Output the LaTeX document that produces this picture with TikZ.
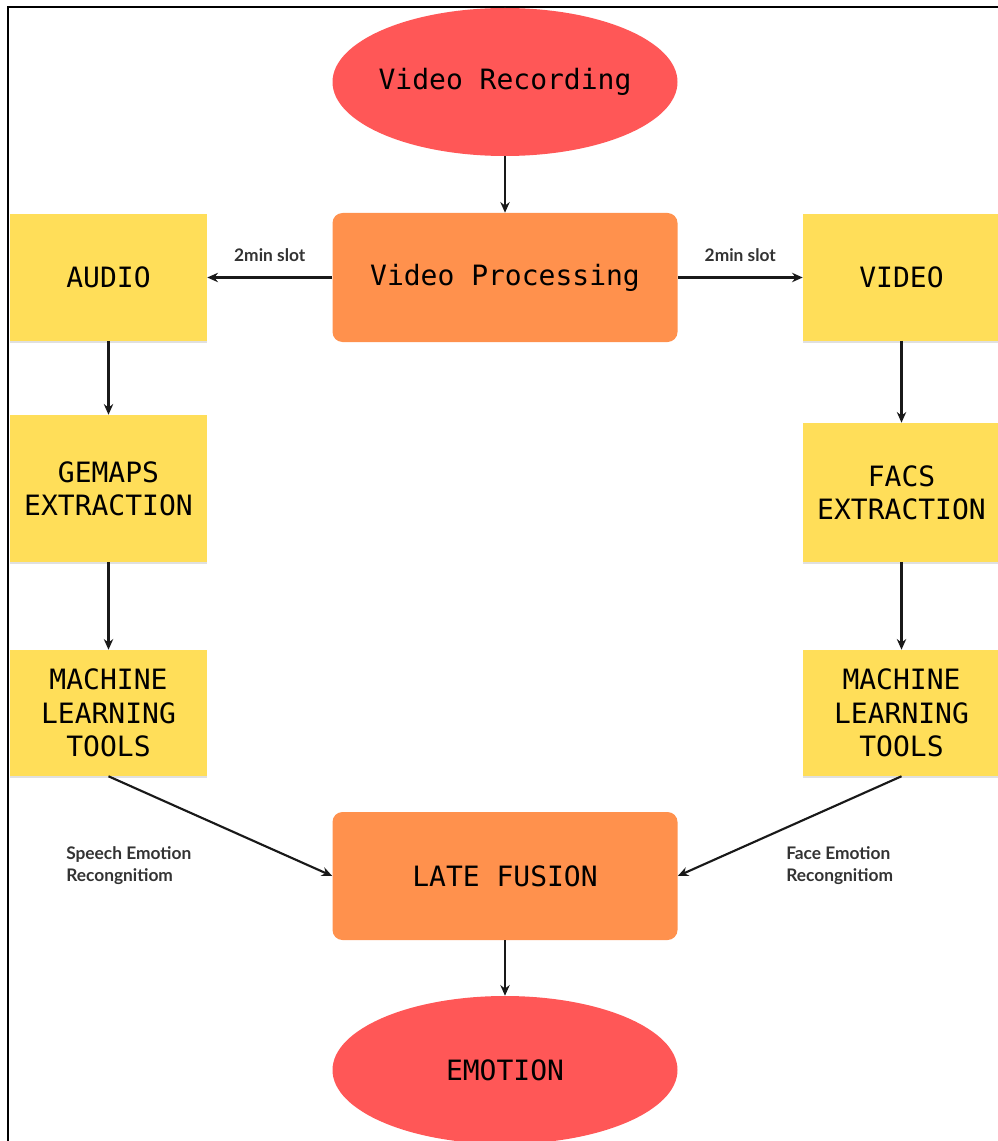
\documentclass[tikz,border=0pt]{standalone}
\usepackage{fontspec}
\setmonofont{DejaVu Sans Mono}
\newfontfamily\lblfont{Lato}
\usetikzlibrary{shapes.geometric,arrows.meta,shadows}
\definecolor{recred}{HTML}{FF5757}
\definecolor{procorange}{HTML}{FF914D}
\definecolor{stepyellow}{HTML}{FFDE59}
\definecolor{lbltext}{HTML}{333333}
\begin{document}
\begin{tikzpicture}[x=0.75pt,y=-0.75pt,
  every node/.style={font=\ttfamily\fontsize{21}{25}\selectfont, align=center, inner sep=0pt},
  oval/.style={ellipse, fill=recred, minimum width=258.75pt, minimum height=111pt},
  procbox/.style={rectangle, rounded corners=7.5pt, fill=procorange, minimum width=258.75pt, minimum height=96.75pt},
  stepbox/.style={rectangle, fill=stepyellow, minimum width=147.75pt, minimum height=94.5pt,
    drop shadow={shadow xshift=0pt, shadow yshift=-1.5pt, opacity=0.12, fill=black}},
  lbl/.style={font=\lblfont\bfseries\fontsize{13}{16.5}\selectfont, text=lbltext},
  arr/.style={-{Stealth[length=8pt,width=7pt]}, line width=1.6pt, draw=black!90}
]
\useasboundingbox (0,0) rectangle (997,1141);
\draw [line width=1.6pt] (8,1145) -- (8,7) -- (1000,7);

\node [oval] (rec) at (505,82) {\makebox[0pt]{Video Recording}};
\node [procbox] (proc) at (505,277.5) {Video Processing};
\node [stepbox] (audio) at (108.5,277.5) {AUDIO};
\node [stepbox] (video) at (901.5,277.5) {VIDEO};
\node [stepbox, minimum height=110.25pt] (gemaps) at (108.5,488.5) {GEMAPS\\EXTRACTION};
\node [stepbox, minimum height=104.25pt] (facs) at (901.5,492.5) {FACS\\EXTRACTION};
\node [stepbox] (mlaudio) at (108.5,713) {MACHINE\\LEARNING\\TOOLS};
\node [stepbox] (mlvideo) at (901.5,713) {MACHINE\\LEARNING\\TOOLS};
\node [procbox, minimum height=96pt] (fusion) at (505,876) {LATE FUSION};
\node [oval] (emotion) at (505,1070) {\makebox[0pt]{EMOTION}};

\draw [arr] (rec) -- (proc);
\draw [arr] (proc.west) -- node [lbl, above=11pt] {2min slot} (audio.east);
\draw [arr] (proc.east) -- node [lbl, above=11pt] {2min slot} (video.west);
\draw [arr] (audio) -- (gemaps);
\draw [arr] (gemaps) -- (mlaudio);
\draw [arr] (video) -- (facs);
\draw [arr] (facs) -- (mlvideo);
\draw [arr] (mlaudio.south) -- (fusion.west);
\draw [arr] (mlvideo.south) -- (fusion.east);
\draw [arr] (fusion) -- (emotion);

\node [lbl, align=left, anchor=west] (speechlbl) at (66,866) {Speech Emotion\\Recongnitiom};
\node [lbl, align=left, anchor=west] (facelbl) at (786,866) {Face Emotion\\Recongnitiom};
\end{tikzpicture}
\end{document}
